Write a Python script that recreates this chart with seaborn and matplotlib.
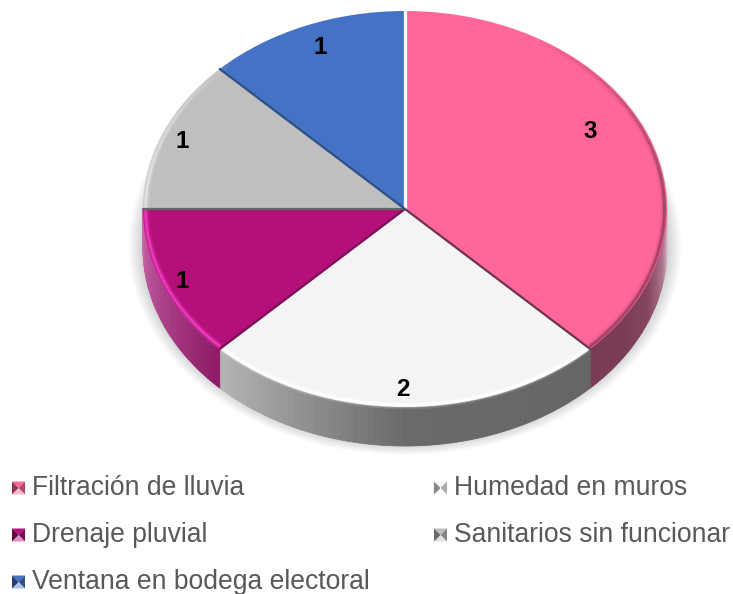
import numpy as np
import matplotlib.pyplot as plt
import seaborn as sns
from matplotlib.colors import LinearSegmentedColormap, to_rgb
from matplotlib.patches import Ellipse, Polygon

# Values
categorias = ["Filtración de lluvia", "Humedad en muros", "Drenaje pluvial",
              "Sanitarios sin funcionar", "Ventana en bodega electoral"]
valores = [3, 2, 1, 1, 1]

colores = ["#FF6699", "#F4F4F4", "#B50F7A", "#BFBFBF", "#4472C4"]
bordes = ["#6E3350", "#6E3350", "#7A1058", "#666666", "#2F4F85"]
# side wall colours, going clockwise
lados = [["#E6D3DD", "#AD7690", "#86465F", "#7A3B56", "#7A3B56"],
         ["#666666", "#6A6A6A", "#B4B4B4"],
         ["#8E1A68", "#C868A8"], ["#888888", "#888888"], ["#333355", "#333355"]]
# rim shading on the top face: colour, strength, from, to (degrees clockwise),
# fade in and fade out widths
brillos = [("#5A2A40", 0.45, 30, 135, 55, 0), ("#FFFFFF", 0.95, 135, 225, 0, 0),
           ("#F040C0", 0.85, 225, 270, 0, 0), ("#E4E4E4", 0.9, 270, 320, 0, 40)]

sns.set_theme(style="white")
plt.rcParams["font.family"] = ["Liberation Sans", "DejaVu Sans"]

cx, cy, rx, ry = 405, 209, 262, 198
prof = 39 / ry


def px(x, y):
    return (x - cx) / rx, (cy - y) / ry


fig = plt.figure(figsize=(7.33, 5.94), dpi=100)
ax = fig.add_axes([0, 0, 1, 1])

# soft shadow under the disc
for k in range(12):
    esc = 1.055 - k * 0.005
    ax.add_patch(Ellipse((0.0, -prof * 0.95), 2 * esc, 2 * esc, fc="#000000",
                         ec="none", alpha=0.016, zorder=1))

# side wall, cut in thin strips so the shading runs along it
fin = np.cumsum(valores) / np.sum(valores) * 360
ini = np.r_[0, fin[:-1]]
for a, b, stops in zip(ini, fin, lados):
    a2, b2 = max(a, 90), min(b, 270)
    if b2 <= a2:
        continue
    cmap = LinearSegmentedColormap.from_list("lado", [to_rgb(c) for c in stops])
    cortes = np.linspace(a2, b2, 60)
    for i in range(len(cortes) - 1):
        t = np.radians(np.linspace(cortes[i], cortes[i + 1], 3))
        xs, ys = np.sin(t), np.cos(t)
        ax.fill(np.r_[xs, xs[::-1]], np.r_[ys, ys[::-1] - prof],
                color=cmap(i / (len(cortes) - 2)), lw=0.6, zorder=2)

# top face
wedges, _ = ax.pie(valores, colors=colores, startangle=90, counterclock=False,
                   radius=1, center=(0, 0),
                   wedgeprops={"linewidth": 0, "zorder": 3})
ax.set_aspect("auto")

# rim shading
for color, fuerza, desde, hasta, entrada, salida in brillos:
    angulos = np.linspace(desde + 0.4, hasta - 0.4, int(hasta - desde) + 1)
    for a0, a1 in zip(angulos[:-1], angulos[1:]):
        rampa = 1.0
        if entrada:
            rampa = min(rampa, (a0 - desde) / entrada)
        if salida:
            rampa = min(rampa, (hasta - a1) / salida)
        t = np.radians([a0, a1])
        for ancho, alfa in [(6, 0.12), (4, 0.25), (2, 1.0)]:
            ax.plot(0.99 * np.sin(t), 0.99 * np.cos(t), color=color,
                    alpha=fuerza * alfa * rampa, lw=ancho, zorder=4,
                    solid_capstyle="butt")

# slice separators
for a, borde in zip(ini, bordes):
    t = np.radians(a)
    if a == 0:
        borde, ancho = "#FFFFFF", 2.4
    else:
        ancho = 1.6
    ax.plot([0, np.sin(t)], [0, np.cos(t)], color=borde, lw=ancho, zorder=5)

# data labels
pos_etiquetas = [(590, 132), (403, 390), (182, 282), (182, 142), (320, 47)]
for v, (x, y) in zip(valores, pos_etiquetas):
    ax.text(*px(x, y), str(v), ha="center", va="center", fontsize=17.5,
            fontweight="bold", color="black", zorder=6)

# legend, bevelled little squares like the original
pos_leyenda = [(12, 488), (434, 488), (12, 535), (434, 535), (12, 582)]
for nombre, color, (x, y) in zip(categorias, colores, pos_leyenda):
    base = np.array(to_rgb(color))
    claro = base + (1 - base) * 0.55
    s = 6.5
    c = (x + s, y)
    esq = [(x, y - s), (x + 2 * s, y - s), (x + 2 * s, y + s), (x, y + s)]
    for j, tono in enumerate([base, base * 0.7, claro, base * 0.55]):
        tri = [px(*esq[j]), px(*esq[(j + 1) % 4]), px(*c)]
        ax.add_patch(Polygon(tri, fc=tono, ec="none", zorder=6))
    ax.text(*px(x + 20, y), nombre, ha="left", va="center", fontsize=19.1,
            color="#595959", zorder=6)

ax.set_xlim(px(0, 0)[0], px(733, 0)[0])
ax.set_ylim(px(0, 594)[1], px(0, 0)[1])
ax.axis("off")

fig.savefig("out.png", dpi=100)
